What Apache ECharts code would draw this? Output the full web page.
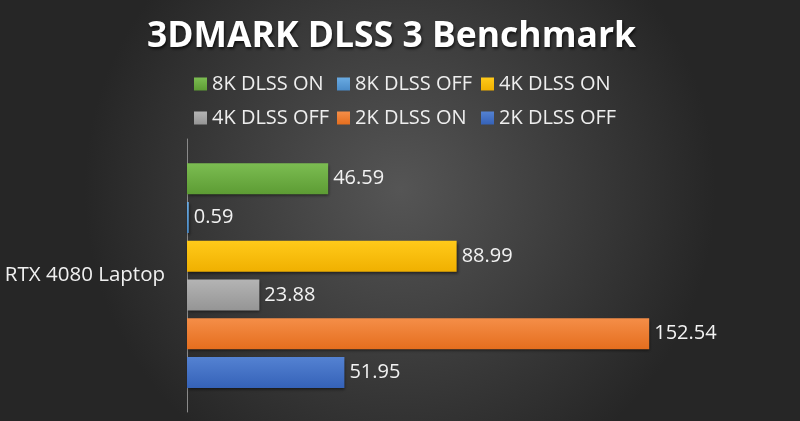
<!DOCTYPE html>
<html><head><meta charset="utf-8">
<script src="https://cdn.jsdelivr.net/npm/echarts@6/dist/echarts.min.js"></script>
<style>html,body{margin:0;padding:0;background:#333;}#c{width:800px;height:421px;}</style>
</head><body><div id="c"></div>
<script>
const categories = ['RTX 4080 Laptop'];
const seriesNames = ['8K DLSS ON', '8K DLSS OFF', '4K DLSS ON', '4K DLSS OFF', '2K DLSS ON', '2K DLSS OFF'];
const values8kOn = [46.59];
const values8kOff = [0.59];
const values4kOn = [88.99];
const values4kOff = [23.88];
const values2kOn = [152.54];
const values2kOff = [51.95];
const seriesValues = [values8kOn, values8kOff, values4kOn, values4kOff, values2kOn, values2kOff];
const colors = [
  ['#7cbd52', '#5d9c34'],
  ['#6aabe2', '#4a8bc8'],
  ['#ffca1a', '#f0b000'],
  ['#b4b4b4', '#959595'],
  ['#f58e48', '#e56e1e'],
  ['#5482d2', '#3562b8']
];
const legendColors = ['#70ad47', '#5b9bd5', '#ffc000', '#a5a5a5', '#ed7d31', '#4472c4'];

const chart = echarts.init(document.getElementById('c'), null, {renderer: 'canvas'});
const FONT = '"Open Sans", "Noto Sans", sans-serif';

const series = seriesNames.map((n, i) => ({
  name: n,
  type: 'bar',
  data: seriesValues[i],
  barWidth: 31,
  barGap: '25%',
  itemStyle: {
    color: new echarts.graphic.LinearGradient(0, 0, 0, 1, [
      {offset: 0, color: colors[i][0]},
      {offset: 1, color: colors[i][1]}
    ]),
    shadowColor: 'rgba(0,0,0,0.55)',
    shadowBlur: 3,
    shadowOffsetX: 1,
    shadowOffsetY: 2
  },
  label: {
    show: true,
    position: 'right',
    distance: 5,
    color: '#f2f2f2',
    fontFamily: FONT,
    fontSize: 20
  }
}));

const colLeft = [194, 337, 481];
const rowTop = [74, 108];
const legends = seriesNames.map((n, i) => ({
  padding: 0,
  itemWidth: 13,
  itemHeight: 13,
  icon: 'rect',
  left: colLeft[i % 3],
  top: rowTop[Math.floor(i / 3)],
  data: [n],
  textStyle: {color: '#eeeeee', fontFamily: FONT, fontSize: 20}
}));

chart.setOption({
  backgroundColor: new echarts.graphic.RadialGradient(0.5, 0.45, 0.75, [
    {offset: 0, color: '#555555'},
    {offset: 1, color: '#262626'}
  ]),
  color: legendColors,
  title: {
    text: '3DMARK DLSS 3 Benchmark',
    left: 142,
    top: 14,
    textStyle: {
      color: '#ffffff',
      fontFamily: FONT,
      fontWeight: 'bold',
      fontSize: 35.5,
      textShadowColor: 'rgba(0,0,0,0.7)',
      textShadowBlur: 3,
      textShadowOffsetX: 1,
      textShadowOffsetY: 2
    }
  },
  legend: legends,
  grid: {left: 187, top: 139, width: 606, height: 273, containLabel: false},
  xAxis: {
    type: 'value',
    min: 0,
    max: 200,
    show: false
  },
  yAxis: {
    type: 'category',
    data: categories,
    inverse: true,
    axisLine: {show: true, lineStyle: {color: '#8a8a8a', width: 1}},
    axisTick: {show: false},
    axisLabel: {color: '#f0f0f0', fontFamily: FONT, fontSize: 20.5, margin: 22, padding: [5, 0, 0, 0]}
  },
  series: series
});
</script>
</body></html>
